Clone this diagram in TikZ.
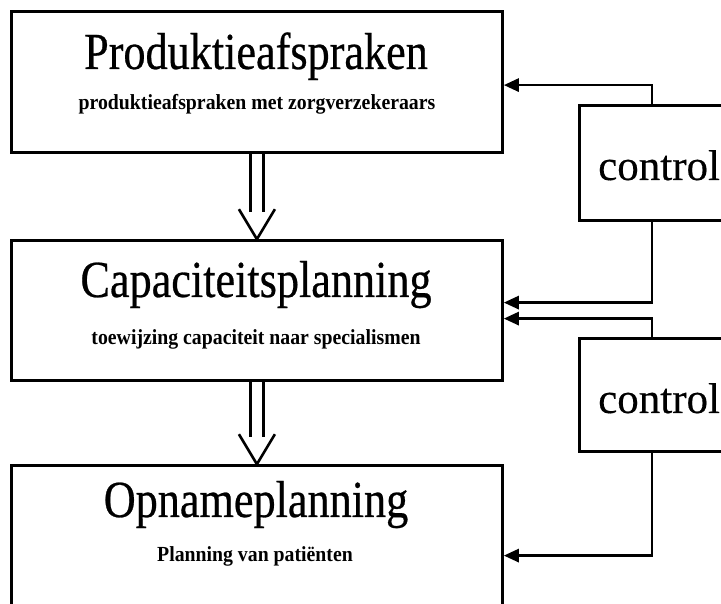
\documentclass[tikz,border=0pt]{standalone}
\usepackage{fontspec}
\setmainfont{Liberation Serif}
\newfontfamily\headfont[FakeStretch=0.85,FakeBold=0.5]{Liberation Serif}
\newfontfamily\subfont[FakeStretch=0.92]{Liberation Serif Bold}
\newfontfamily\ctlfont[FakeBold=0.4]{Liberation Serif}
\usetikzlibrary{arrows.meta}
\begin{document}
\begin{tikzpicture}[x=1pt,y=1pt,
  frame/.style={draw, line width=2.8pt, inner sep=0pt, anchor=south west},
  headtext/.style={anchor=base, inner sep=0pt, font=\headfont\fontsize{52}{52}\selectfont},
  subtext/.style={anchor=base, inner sep=0pt, font=\subfont\fontsize{21.5}{22}\selectfont},
  ctltext/.style={anchor=base west, inner sep=0pt, font=\ctlfont\fontsize{43}{43}\selectfont},
  fb/.style={line width=2.8pt, -{Triangle[length=15pt,width=13pt]}, line join=miter},
  flow/.style={line width=2.6pt},
  flowhead/.style={line width=2.6pt, line join=miter, miter limit=20}
]
\useasboundingbox (0,0) rectangle (721,604);
\clip (0,0) rectangle (721,604);
\fill[white] (0,0) rectangle (721,604);

% planning levels
\node[frame, minimum width=491, minimum height=141] (prod) at (10,450) {};
\node[frame, minimum width=491, minimum height=140] (cap)  at (10,222) {};
\node[frame, minimum width=491, minimum height=173] (opn)  at (10,-36) {};

\node[headtext] (prodhead) at (256,535) {Produktieafspraken};
\node[subtext]  (prodsub)  at (257,494) {produktieafspraken met zorgverzekeraars};
\node[headtext] (caphead)  at (256,307) {Capaciteitsplanning};
\node[subtext]  (capsub)   at (256,259) {toewijzing capaciteit naar specialismen};
\node[headtext] (opnhead)  at (256,87)  {Opnameplanning};
\node[subtext]  (opnsub)   at (255,42)  {Planning van patiënten};

% control blocks
\node[frame, minimum width=190, minimum height=115] (ctlA) at (578,382) {};
\node[frame, minimum width=190, minimum height=113] (ctlB) at (578,151) {};
\node[ctltext] (ctlAtext) at (598,424) {control};
\node[ctltext] (ctlBtext) at (598,191) {control};

% feedback loops
\coordinate (col) at (652,0);
\draw[fb] (ctlA.north -| col) |- ([yshift=-3]prod.east);
\draw[fb] (ctlA.south -| col) |- ([yshift=8]cap.east);
\draw[fb] (ctlB.north -| col) |- ([yshift=-8]cap.east);
\draw[fb] (ctlB.south -| col) |- ([yshift=-3.5]opn.east);

% downward hollow arrows
\draw[flow] ([xshift=-6.5]prod.south) -- ([shift={(-6.5,27)}]cap.north);
\draw[flow] ([xshift=6.5]prod.south) -- ([shift={(6.5,27)}]cap.north);
\draw[flowhead] ([shift={(-18,30)}]cap.north) -- (cap.north) -- ([shift={(18,30)}]cap.north);

\draw[flow] ([xshift=-6.5]cap.south) -- ([shift={(-6.5,27)}]opn.north);
\draw[flow] ([xshift=6.5]cap.south) -- ([shift={(6.5,27)}]opn.north);
\draw[flowhead] ([shift={(-18,30)}]opn.north) -- (opn.north) -- ([shift={(18,30)}]opn.north);
\end{tikzpicture}
\end{document}
